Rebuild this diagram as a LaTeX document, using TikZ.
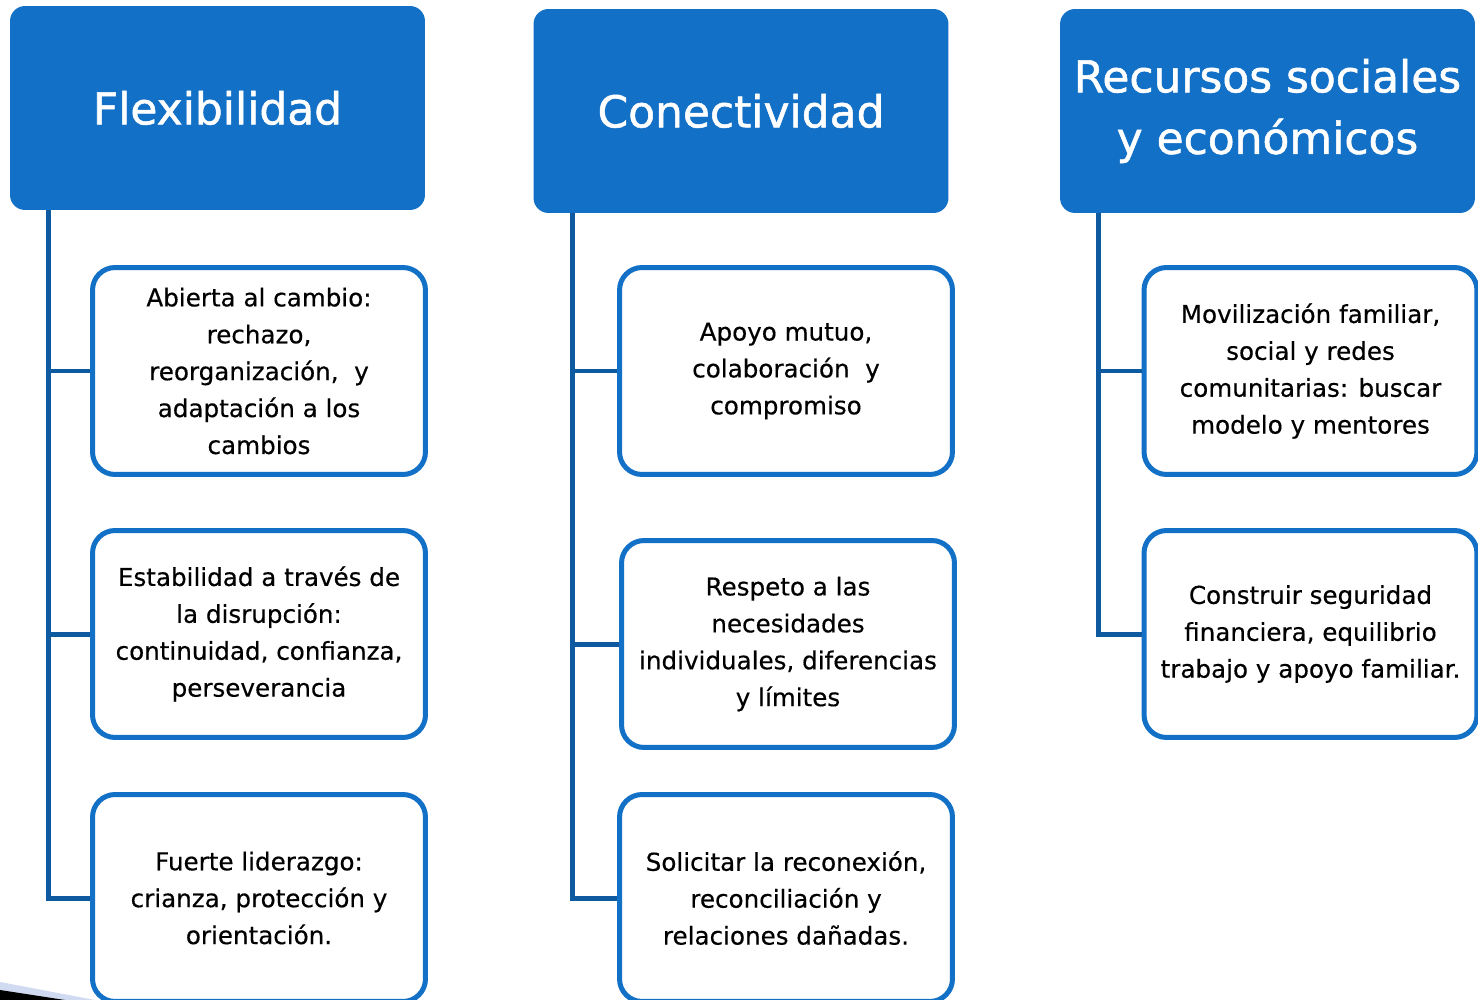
\documentclass[tikz,border=0pt]{standalone}
\usepackage{fontspec}
\setmainfont{DejaVu Sans}
\newfontfamily\headfont{DejaVu Sans}[FakeBold=1.2, AutoFakeBold=1.2]
\newfontfamily\itemfont{DejaVu Sans}[FakeBold=0.4, AutoFakeBold=0.4]
\definecolor{hdrblue}{RGB}{18,112,198}
\definecolor{linkblue}{RGB}{14,90,160}
\definecolor{wedgegray}{RGB}{208,218,240}
\begin{document}
\begin{tikzpicture}[x=0.02cm, y=-0.02cm,
    head node/.style={fill=hdrblue, rounded corners=0.3cm, text=white, align=center, inner sep=0pt, minimum width=8.3cm, minimum height=4.08cm, font=\headfont\bfseries\fontsize{25}{35}\selectfont},
    item node/.style={draw=hdrblue, line width=0.1cm, fill=white, rounded corners=0.45cm, align=center, inner sep=0pt, minimum width=6.66cm, minimum height=4.14cm, font=\itemfont\bfseries\fontsize{14}{21}\selectfont},
    link/.style={draw=linkblue, line width=0.1cm}]
    \clip (0,0) rectangle (1478,1000);
    \useasboundingbox (0,0) rectangle (1478,1000);

      % corner of the slide
      \fill[wedgegray] (0,982) -- (95,1000) -- (0,1000) -- cycle;
      \fill[black] (0,990) -- (65,1000) -- (0,1000) -- cycle;

      \node[head node] (1) at (217.5,108) {Flexibilidad};
      \node[head node] (2) at (741,111) {Conectividad};
      \node[head node] (3) at (1267.5,111) {Recursos sociales\\y económicos};

      \coordinate (10) at ([xshift=0.78cm]1.south west);
      \coordinate (20) at ([xshift=0.78cm]2.south west);
      \coordinate (30) at ([xshift=0.78cm]3.south west);

      \node[item node] (11) at (259,371) {Abierta al cambio:\\rechazo,\\reorganización,~ y\\adaptación a los\\cambios};
      \node[item node] (12) at (259,634) {Estabilidad a través de\\la disrupción:\\continuidad, confianza,\\perseverancia};
      \node[item node] (13) at (259,898) {Fuerte liderazgo:\\crianza, protección y\\orientación.};

      \node[item node] (21) at (786,371) {Apoyo mutuo,\\colaboración~ y\\compromiso};
      \node[item node] (22) at (788,644) {Respeto a las\\necesidades\\individuales, diferencias\\y límites};
      \node[item node] (23) at (786,898) {Solicitar la reconexión,\\reconciliación y\\relaciones dañadas.};

      \node[item node] (31) at (1310.5,371) {Movilización familiar,\\social y redes\\comunitarias: buscar\\modelo y mentores};
      \node[item node] (32) at (1310.5,634) {Construir seguridad\\financiera, equilibrio\\trabajo y apoyo familiar.};

      \path[link]
        (10) edge[to path={|- (\tikztotarget)}] (11.west)
             edge[to path={|- (\tikztotarget)}] (12.west)
             edge[to path={|- (\tikztotarget)}] (13.west)
        (20) edge[to path={|- (\tikztotarget)}] (21.west)
             edge[to path={|- (\tikztotarget)}] (22.west)
             edge[to path={|- (\tikztotarget)}] (23.west)
        (30) edge[to path={|- (\tikztotarget)}] (31.west)
             edge[to path={|- (\tikztotarget)}] (32.west);

    \end{tikzpicture}
\end{document}
